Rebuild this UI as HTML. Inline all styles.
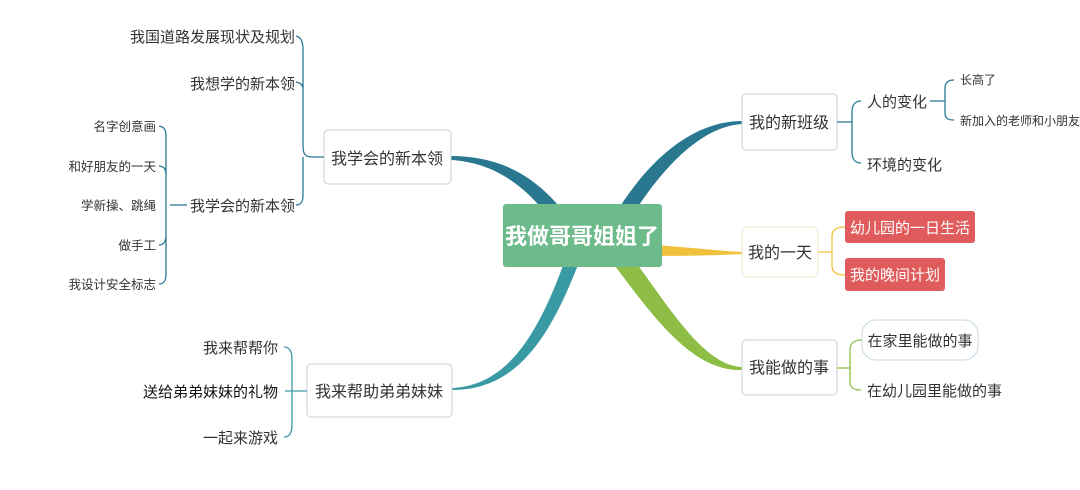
<!DOCTYPE html>
<html><head><meta charset="utf-8"><style>
html,body{margin:0;padding:0;background:#fff;}
svg{display:block;}
text{font-family:"Liberation Sans","Noto Sans CJK SC",sans-serif;fill:#333;}
</style></head><body>
<svg width="1080" height="490" viewBox="0 0 1080 490" xmlns="http://www.w3.org/2000/svg">
<path d="M451,156 C505,156 545,180 578,232 L566,242 C535,192 500,163 451,160 Z" fill="#2a7890"/>
<path d="M742,121 C700,121 650,150 606,230 L620,236 C662,162 705,126 742,124 Z" fill="#2a7890"/>
<path d="M452,390 C522,390 556,330 590,232 L576,228 C546,320 515,385 452,388 Z" fill="#3a9aa4"/>
<path d="M640,244 C700,248 720,251 742,252 L742,254 C720,255 700,256 640,256 Z" fill="#f0c23c"/>
<path d="M628,252 C665,300 702,366 742,367 L742,370 C692,372 652,315 612,262 Z" fill="#8dbd45"/>
<rect x="503" y="204" width="159" height="63" rx="3" fill="#6dbb8a"/>
<text x="582" y="244" text-anchor="middle" font-size="22" font-weight="bold" style="fill:#fff">我做哥哥姐姐了</text>
<rect x="324" y="130" width="127" height="54" rx="4" fill="#fff" stroke="#c8d0d6"/>
<text x="387" y="164" text-anchor="middle" font-size="16">我学会的新本领</text>
<g fill="none" stroke="#2a7890" stroke-width="1.3">
<path d="M324,157 L312,157 M312,157 C302,157 303,150 303,140 L303,50 C303,40 300,37 296,36 M303,90 C303,84 300,83 296,82 M303,157 L303,195 C303,203 300,205 296,205"/>
<path d="M187,205 L170,205 M166,205 L166,136 C166,128 163,127 159,126 M166,205 L166,274 C166,282 163,284 159,284 M166,175 C166,168 163,166 159,166 M166,235 C166,242 163,245 159,245"/>
</g>
<text x="295" y="42" text-anchor="end" font-size="15">我国道路发展现状及规划</text>
<text x="295" y="89" text-anchor="end" font-size="15">我想学的新本领</text>
<text x="295" y="211" text-anchor="end" font-size="15">我学会的新本领</text>
<text x="156" y="131" text-anchor="end" font-size="12.5">名字创意画</text>
<text x="156" y="171" text-anchor="end" font-size="12.5">和好朋友的一天</text>
<text x="156" y="210" text-anchor="end" font-size="12.5">学新操、跳绳</text>
<text x="156" y="250" text-anchor="end" font-size="12.5">做手工</text>
<text x="156" y="289" text-anchor="end" font-size="12.5">我设计安全标志</text>
<rect x="307" y="364" width="145" height="53" rx="4" fill="#fff" stroke="#c8d0d6"/>
<text x="379" y="397" text-anchor="middle" font-size="16">我来帮助弟弟妹妹</text>
<g fill="none" stroke="#3a9aa4" stroke-width="1.3">
<path d="M307,391 L292,391 M292,391 L292,360 C292,350 289,347 284,347 M292,391 L292,424 C292,434 289,437 284,437 M292,391 L285,391"/>
</g>
<text x="278" y="353" text-anchor="end" font-size="15">我来帮帮你</text>
<text x="278" y="397" text-anchor="end" font-size="15" style="fill:#111">送给弟弟妹妹的礼物</text>
<text x="278" y="443" text-anchor="end" font-size="15">一起来游戏</text>
<rect x="742" y="94" width="95" height="56" rx="4" fill="#fff" stroke="#c8d0d6"/>
<text x="789" y="128" text-anchor="middle" font-size="16">我的新班级</text>
<g fill="none" stroke="#2a7890" stroke-width="1.3">
<path d="M837,122 L852,122 M852,122 L852,112 C852,104 856,101 861,101 M852,122 L852,152 C852,160 856,163 861,163 M930,101 L945,101 M945,101 L945,88 C945,82 949,80 954,80 M945,101 L945,113 C945,119 949,120 954,120"/>
</g>
<text x="867" y="107" font-size="15">人的变化</text>
<text x="867" y="170" font-size="15">环境的变化</text>
<text x="960" y="84" font-size="12">长高了</text>
<text x="960" y="125" font-size="12">新加入的老师和小朋友</text>
<rect x="742" y="227" width="76" height="50" rx="4" fill="#fff" stroke="#ece4c8"/>
<text x="780" y="258" text-anchor="middle" font-size="16">我的一天</text>
<g fill="none" stroke="#f0c23c" stroke-width="1.3">
<path d="M818,252 L832,252 M832,252 L832,236 C832,230 836,227 845,227 M832,252 L832,266 C832,272 836,275 845,275"/>
</g>
<rect x="845" y="211" width="130" height="32" rx="3" fill="#e05b5b"/>
<text x="910" y="233" text-anchor="middle" font-size="15" style="fill:#fff">幼儿园的一日生活</text>
<rect x="845" y="258" width="100" height="33" rx="3" fill="#e05b5b"/>
<text x="895" y="280" text-anchor="middle" font-size="15" style="fill:#fff">我的晚间计划</text>
<rect x="742" y="340" width="95" height="55" rx="4" fill="#fff" stroke="#c8d0d6"/>
<text x="789" y="373" text-anchor="middle" font-size="16">我能做的事</text>
<g fill="none" stroke="#8dbd45" stroke-width="1.3">
<path d="M837,368 L850,368 M850,368 L850,350 C850,343 854,340 862,340 M850,368 L850,382 C850,388 854,390 861,390"/>
</g>
<rect x="862" y="320" width="116" height="40" rx="14" fill="#fff" stroke="#c8d6e0"/>
<text x="920" y="346" text-anchor="middle" font-size="15">在家里能做的事</text>
<text x="867" y="396" font-size="15">在幼儿园里能做的事</text>
</svg>
</body></html>
